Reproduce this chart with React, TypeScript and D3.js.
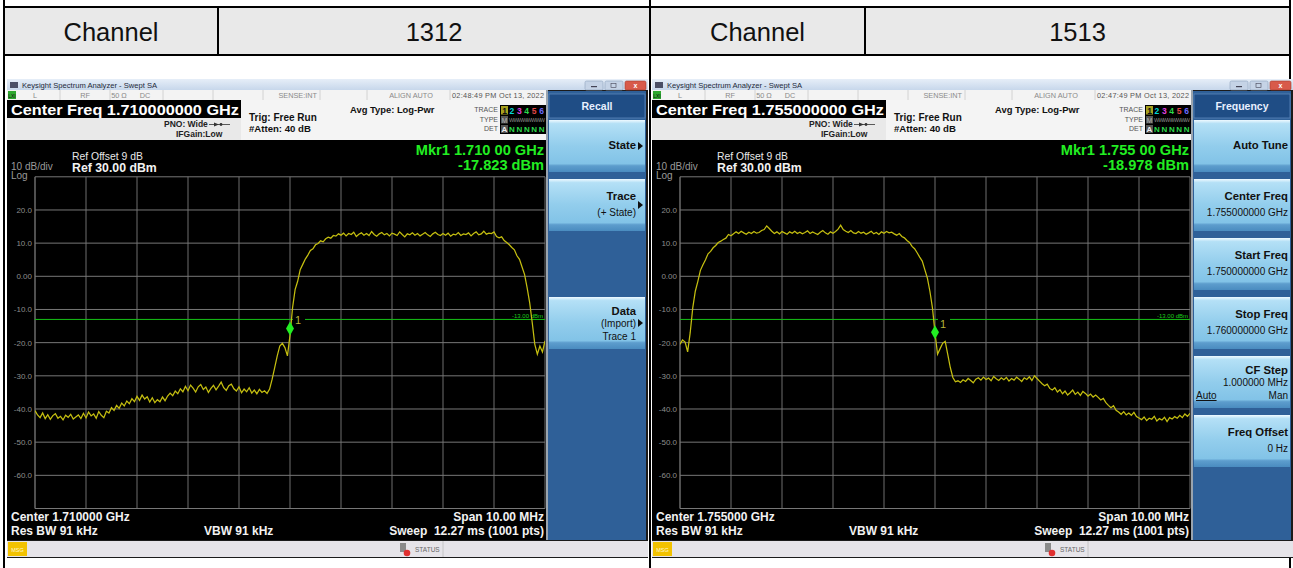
import React from "react";
import * as d3 from "d3";

// ---- data ----
const channels = ["1312", "1513"];
const centerFreqs = [1.71, 1.755]; // GHz
const markerLevels = [-17.823, -18.978]; // dBm
const markerTexts = ["1.710 00 GHz", "1.755 00 GHz"];
const timestamps = ["02:48:49 PM Oct 13, 2022", "02:47:49 PM Oct 13, 2022"];
const yTicks = [20, 10, 0, -10, -20, -30, -40, -50, -60];
const displayLine = -13;
const refLevel = 30;
const spanGHz = 0.01;

// 201 points across the 10 MHz span
const trace1312 = [
  -40.5, -41.8, -42.6, -41.2, -42.9, -41.7, -43.1, -42.0, -41.4, -42.8,
  -42.2, -43.3, -41.9, -42.5, -41.6, -43.0, -42.4, -41.8, -42.9, -41.3,
  -42.7, -40.9, -42.1, -41.5, -42.8, -40.8, -41.9, -42.6, -40.7,
  -41.2, -39.6, -40.4, -38.9, -39.8, -38.2, -39.1, -37.6, -38.4, -36.9, -37.8, -36.2, -37.4, -35.8,
  -37.0, -36.3, -37.9, -36.6, -38.1, -37.2, -37.8, -36.4, -37.5, -36.1, -35.2, -36.0, -34.6, -35.4,
  -33.9, -34.8, -33.2, -34.5, -32.8, -33.7, -34.9, -33.3, -32.6, -34.1,
  -33.4, -35.0, -33.8, -32.9, -34.2, -33.1, -31.9, -33.6, -34.4, -33.0,
  -32.5, -33.9, -34.6, -33.3, -35.1, -34.0, -34.8, -33.6, -35.2, -34.3,
  -35.4, -34.1, -35.0, -34.5, -35.3, -34.0,
  -31.0, -27.5, -24.0, -21.0, -20.2, -21.5, -24.0, -17.8, -9.5, -4.0,
  -1.5, 2.0, 3.6, 5.2, 6.4, 7.8, 8.3, 9.5, 9.9, 10.7, 10.4, 11.3, 11.8, 11.5, 12.3,
  12.1, 12.8, 12.4, 13.0, 12.2, 12.9, 12.6, 13.3, 12.0, 12.7,
  13.1, 12.4, 12.9, 12.3, 13.5, 12.6, 12.1, 12.8, 13.2, 12.5,
  12.9, 12.2, 13.0, 12.7, 12.3, 13.4, 12.6, 11.9, 12.8, 12.5,
  13.1, 12.4, 12.9, 12.2, 12.7, 13.2, 12.5, 12.0, 12.8, 13.3,
  12.6, 12.3, 12.9, 12.4, 13.0, 12.1, 12.7, 12.5, 13.2, 12.3,
  12.8, 12.6, 13.1, 12.2, 12.9, 13.4, 12.5, 12.8, 13.6, 12.7,
  13.0,
  12.9, 13.4, 12.0, 11.6, 11.9, 10.8, 10.2, 9.5, 8.7, 8.0, 6.2,
  5.1, 2.8, 0.5, -3.5, -8.0, -14.0, -20.5, -23.5, -21.0, -22.8, -19.5,
];

const trace1513 = [
  -20.5, -19.2, -19.8, -22.8, -17.0, -9.5, -4.5, -1.5, 1.8, 3.5,
  5.0, 6.8, 7.5, 8.6, 9.3, 10.2, 10.6, 11.1, 11.5, 12.6, 12.2,
  12.8, 13.4, 12.9, 13.6, 13.1, 12.7, 13.3, 12.9, 13.5, 13.0,
  13.2, 13.8, 14.1, 15.2, 14.4, 13.6, 12.9, 13.4, 12.8, 13.5,
  13.1, 12.7, 13.4, 13.0, 13.6, 12.9, 13.3, 12.8, 13.2, 13.7,
  12.9, 13.4, 13.0, 12.6, 13.3, 13.8, 13.1, 12.7, 13.4, 13.0,
  13.5, 14.2, 15.4, 14.1, 13.6, 13.2, 13.8, 13.1, 12.9, 13.5,
  13.0, 13.3, 12.7, 13.1, 13.6, 12.8, 13.2, 12.6, 13.4, 13.0,
  13.5, 13.1, 13.3, 12.8,
  12.4, 12.9, 12.0, 11.6, 10.8, 10.2, 9.0, 8.3, 7.1, 5.8, 4.6, 2.0,
  -0.5, -4.5, -9.5, -17.0, -23.5, -21.8, -20.2, -19.6, -23.5, -27.5, -30.5, -31.8,
  -31.5, -32.0, -31.2, -31.7, -30.8, -31.4, -32.1, -31.0, -30.6, -31.3,
  -30.4, -31.1, -30.7, -31.5, -30.2, -30.9, -31.4, -30.6, -31.2, -30.5,
  -31.6, -30.8, -31.3, -30.4, -31.0, -31.7, -30.6, -31.1, -30.3, -31.4,
  -30.0, -30.8,
  -31.6, -32.4, -33.0, -32.5, -33.8, -34.3, -33.6, -34.9, -34.2,
  -35.4, -34.6, -35.8, -35.1, -34.3, -35.6, -34.9, -35.9, -34.7, -35.3, -36.1, -35.5, -36.4, -35.8,
  -36.5, -37.3, -36.8, -38.1, -38.9, -39.6, -39.0, -40.4, -40.9, -41.6, -40.8, -41.8, -41.2, -41.9, -41.0, -42.3,
  -42.7, -43.2, -42.4, -43.5, -42.8, -43.1, -42.2, -43.6, -42.9, -43.3,
  -42.5, -43.8, -42.6, -43.0, -42.3, -42.8, -41.9, -42.6, -41.5, -42.2, -41.3,
];

const traces = [trace1312, trace1513];

const recallKeys = [
  { slot: 0, title: "State", sub: [], arrow: true },
  { slot: 1, title: "Trace", sub: ["(+ State)"], arrow: true },
  { slot: 3, title: "Data", sub: ["(Import)", "Trace 1"], arrow: true },
];
const frequencyKeys = [
  { slot: 0, title: "Auto Tune", sub: [], arrow: false },
  { slot: 1, title: "Center Freq", sub: ["1.755000000 GHz"], arrow: false },
  { slot: 2, title: "Start Freq", sub: ["1.750000000 GHz"], arrow: false },
  { slot: 3, title: "Stop Freq", sub: ["1.760000000 GHz"], arrow: false },
  { slot: 4, title: "CF Step", sub: ["1.000000 MHz", "Auto|Man"], arrow: false },
  { slot: 5, title: "Freq Offset", sub: ["0 Hz"], arrow: false },
];
const menus = [
  { title: "Recall", keys: recallKeys },
  { title: "Frequency", keys: frequencyKeys },
];

const FONT = "'Liberation Sans', Arial, sans-serif";

// grid box (left screenshot coords, right one is shifted)
const GL = 35, GR = 545, GT = 176.8, GB = 508.5;

function Softkeys({ menu, id }) {
  const px = 549, pw = 96;
  return (
    <g>
      <rect x={548} y={91} width={98} height={449} fill="#2f6098" />
      <rect x={px} y={94} width={pw} height={24} fill="#1f4d85" stroke="#5a86b8" strokeWidth={0.8} />
      <text x={px + pw / 2} y={110} textAnchor="middle" fill="#e8f0ff" fontSize={10.5} fontWeight="bold">{menu.title}</text>
      {menu.keys.map((k) => {
        const top = 120 + 59 * k.slot;
        const n = 1 + k.sub.length;
        const base = n === 1 ? [29] : n === 2 ? [21, 37] : [18, 30, 43];
        const right = k.arrow ? 636 : 643;
        return (
          <g key={k.slot}>
            <rect x={px} y={top} width={pw} height={52} fill={`url(#key-${id})`} />
            <text x={right} y={top + base[0]} textAnchor="end" fontSize={11.3} fontWeight="bold" fill="#111">{k.title}</text>
            {k.sub.map((s, i) => {
              if (s.includes("|")) {
                const [a, b] = s.split("|");
                return (
                  <g key={i}>
                    <text x={551} y={top + base[i + 1]} fontSize={10} fill="#111" textDecoration="underline">{a}</text>
                    <text x={right} y={top + base[i + 1]} textAnchor="end" fontSize={10} fill="#111">{b}</text>
                  </g>
                );
              }
              return (
                <text key={i} x={right} y={top + base[i + 1]} textAnchor="end" fontSize={10} fill="#111">{s}</text>
              );
            })}
            {k.arrow && (
              <path d={`M638,${top + 22} L643,${top + 26} L638,${top + 30} Z`} fill="#111" />
            )}
          </g>
        );
      })}
    </g>
  );
}

function Analyzer({ idx, dx }) {
  const center = centerFreqs[idx];
  const trace = traces[idx];
  const x = d3.scaleLinear().domain([center - spanGHz / 2, center + spanGHz / 2]).range([GL, GR]);
  const y = d3.scaleLinear().domain([refLevel - 100, refLevel]).range([GB, GT]);
  const f0 = center - spanGHz / 2;
  const pts = trace.map((v, i) => [f0 + (i * spanGHz) / (trace.length - 1), v]);
  const line = d3.line().x((d) => x(d[0])).y((d) => y(d[1]));
  const xGrid = d3.range(11).map((i) => f0 + (i * spanGHz) / 10);
  const yGrid = d3.range(11).map((i) => refLevel - i * 10);
  const mx = x(center), my = y(markerLevels[idx]);
  const dl = y(displayLine);
  const fmt = (v) => (v === 0 ? "0.00" : v.toFixed(1));
  const ghz = center.toFixed(6);
  const statusSeps = [60, 110, 163, 213, 263, 320, 367, 450];

  return (
    <g transform={`translate(${dx},0)`} fontFamily={FONT}>
      <defs>
        <linearGradient id={`title-${idx}`} x1="0" y1="0" x2="0" y2="1">
          <stop offset="0" stopColor="#e6eef8" />
          <stop offset="1" stopColor="#c7d7eb" />
        </linearGradient>
        <linearGradient id={`key-${idx}`} x1="0" y1="0" x2="0" y2="1">
          <stop offset="0" stopColor="#eef9ff" />
          <stop offset="0.07" stopColor="#b4e0f6" />
          <stop offset="0.5" stopColor="#92cdec" />
          <stop offset="0.84" stopColor="#82c3e7" />
          <stop offset="0.88" stopColor="#5d9dcd" />
          <stop offset="1" stopColor="#4a8cc0" />
        </linearGradient>
        <clipPath id={`grid-${idx}`}>
          <rect x={GL} y={GT} width={GR - GL} height={GB - GT} />
        </clipPath>
      </defs>

      {/* frame */}
      <rect x={7} y={79} width={641} height={479} fill="#1b1b1b" />

      {/* title bar */}
      <rect x={7} y={79} width={641} height={11} fill={`url(#title-${idx})`} />
      <rect x={10} y={82} width={8} height={6} fill="#4a4f66" />
      <text x={22} y={88} fontSize={7.6} fill="#1e2a3a">Keysight Spectrum Analyzer - Swept SA</text>
      <rect x={585} y={81} width={18} height={9} rx={1.5} fill="#c5d3e6" stroke="#8ea2bd" strokeWidth={0.6} />
      <rect x={591} y={86} width={6} height={1.2} fill="#445" />
      <rect x={605} y={81} width={18} height={9} rx={1.5} fill="#c5d3e6" stroke="#8ea2bd" strokeWidth={0.6} />
      <rect x={611} y={83.5} width={5} height={4} fill="none" stroke="#445" strokeWidth={0.6} />
      <rect x={625} y={81} width={21} height={9} rx={1.5} fill="#d85a4a" stroke="#a63a2e" strokeWidth={0.6} />
      <text x={635.5} y={88} textAnchor="middle" fontSize={7} fill="#fff" fontWeight="bold">x</text>

      {/* status row */}
      <rect x={7} y={90} width={540} height={10} fill="#f3f3f3" />
      <rect x={8} y={91} width={8} height={8} fill="#2fa82f" />
      <text x={12} y={97.5} textAnchor="middle" fontSize={5} fill="#111">LXI</text>
      {statusSeps.map((s) => (
        <line key={s} x1={s} x2={s} y1={90} y2={100} stroke="#c9c9c9" strokeWidth={0.8} />
      ))}
      <g fontSize={7.3} fill="#8a8a8a">
        <text x={35} y={98} textAnchor="middle">L</text>
        <text x={85} y={98} textAnchor="middle">RF</text>
        <text x={119} y={98} textAnchor="middle">50 Ω</text>
        <text x={145} y={98} textAnchor="middle">DC</text>
        <text x={317} y={98} textAnchor="end">SENSE:INT</text>
        <text x={411} y={98} textAnchor="middle">ALIGN AUTO</text>
        <text x={452} y={98} fill="#555" textLength={92}>{timestamps[idx]}</text>
      </g>

      {/* settings header */}
      <rect x={7} y={100} width={540} height={40} fill="#f4f4f4" />
      <rect x={7} y={118} width={234} height={22} fill="#e9e9e9" />
      <rect x={7} y={100} width={234} height={18} fill="#000" />
      <text x={11} y={115} fontSize={14.5} fontWeight="bold" fill="#fff" textLength={228}
        lengthAdjust="spacingAndGlyphs">Center Freq {center.toFixed(9)} GHz</text>
      <g fontSize={8.5} fill="#222" fontWeight="bold">
        <text x={164} y={127}>PNO: Wide</text>
        <text x={176} y={137}>IFGain:Low</text>
      </g>
      <line x1={209} x2={230} y1={124.5} y2={124.5} stroke="#333" strokeWidth={0.8} />
      <path d="M214,122.5 L219,124.5 L214,126.5 Z" fill="#333" />
      <circle cx={221} cy={124.5} r={1.4} fill="#333" />
      <g fontSize={10} fill="#111" fontWeight="bold">
        <text x={249} y={121}>Trig: Free Run</text>
        <text x={249} y={132} fontSize={9.6}>#Atten: 40 dB</text>
        <text x={350} y={113} fontSize={9.4}>Avg Type: Log-Pwr</text>
      </g>
      <g fontSize={7} fill="#555">
        <text x={498} y={112} textAnchor="end">TRACE</text>
        <text x={498} y={122} textAnchor="end">TYPE</text>
        <text x={498} y={131} textAnchor="end">DET</text>
      </g>
      <rect x={500} y={105} width={46} height={29} fill="#000" />
      <rect x={501} y={106} width={7} height={8.5} fill="#a6a01e" />
      {["1", "2", "3", "4", "5", "6"].map((c, i) => (
        <text key={c} x={504.5 + i * 7.4} y={113.5} textAnchor="middle" fontSize={8.5} fontWeight="bold"
          fill={["#111", "#00d8d8", "#e040e0", "#2bd84a", "#e04848", "#6a6aff"][i]}>{c}</text>
      ))}
      <rect x={501} y={116} width={7} height={7.5} fill="#555" />
      <text x={504.5} y={122.5} textAnchor="middle" fontSize={6.5} fill="#bbb">M</text>
      <text x={509} y={122} fontSize={5.5} fill="#8a8a8a" textLength={36}>WWWWWWWW</text>
      <rect x={501} y={125} width={7} height={8} fill="#555" />
      <text x={504.5} y={132} textAnchor="middle" fontSize={8} fontWeight="bold" fill="#eee">A</text>
      {d3.range(5).map((i) => (
        <text key={i} x={512 + i * 7.4} y={132} textAnchor="middle" fontSize={8} fontWeight="bold" fill="#2bd84a">N</text>
      ))}

      {/* graph area */}
      <rect x={7} y={140} width={540} height={400} fill="#000" />
      <text x={11} y={169.5} fontSize={10} fill="#9a9a9a">10 dB/div</text>
      <text x={11} y={179} fontSize={10} fill="#9a9a9a">Log</text>
      <text x={72} y={160} fontSize={10.4} fill="#e8e8e8">Ref Offset 9 dB</text>
      <text x={72} y={171.5} fontSize={12.3} fontWeight="bold" fill="#f2f2f2">Ref 30.00 dBm</text>
      <text x={544} y={155} textAnchor="end" fontSize={14.6} fontWeight="bold" fill="#22ee22">Mkr1 {markerTexts[idx]}</text>
      <text x={544} y={170} textAnchor="end" fontSize={14.6} fontWeight="bold" fill="#22ee22">{markerLevels[idx].toFixed(3)} dBm</text>

      {xGrid.map((f, i) => (
        <line key={`v${i}`} x1={x(f)} x2={x(f)} y1={GT} y2={GB} stroke={i === 0 ? "#a0a0a0" : "#6f6f6f"} strokeWidth={1} />
      ))}
      {yGrid.map((v) => (
        <line key={`h${v}`} x1={GL} x2={GR} y1={y(v)} y2={y(v)} stroke="#777" strokeWidth={1} />
      ))}
      {yTicks.map((v) => (
        <text key={`t${v}`} x={32} y={y(v) + 3} textAnchor="end" fontSize={8} fill="#8d8d8d">{fmt(v)}</text>
      ))}

      <line x1={GL} x2={GR} y1={dl} y2={dl} stroke="#16c016" strokeWidth={1} />
      <rect x={mx + 3} y={dl - 1.5} width={12} height={3} fill="#000" />
      <text x={543} y={dl - 1.5} textAnchor="end" fontSize={6} fill="#1ccc1c">-13.00 dBm</text>

      <path d={line(pts)} fill="none" stroke="#c4be10" strokeWidth={1.25} clipPath={`url(#grid-${idx})`} />

      <path d={`M${mx},${my} L${mx + 4},${my - 7} L${mx},${my - 14} L${mx - 4},${my - 7} Z`} fill="#22ee22" />
      <text x={mx + 5} y={my - 11} fontSize={11} fill="#b8b33a">1</text>

      <g fontSize={12} fontWeight="bold" fill="#f2f2f2">
        <text x={11} y={520.5}>Center {ghz} GHz</text>
        <text x={11} y={534.5}>Res BW 91 kHz</text>
        <text x={204} y={534.5}>VBW 91 kHz</text>
        <text x={544} y={520.5} textAnchor="end">Span 10.00 MHz</text>
        <text x={544} y={534.5} textAnchor="end" xmlSpace="preserve">Sweep  12.27 ms (1001 pts)</text>
      </g>

      {/* divider + softkeys */}
      <rect x={546} y={90} width={2} height={450} fill="#9aa4ae" />
      <Softkeys menu={menus[idx]} id={idx} />

      {/* message bar */}
      <rect x={7} y={541} width={641} height={16} fill="#e6e4e9" />
      <rect x={8} y={542} width={19} height={14} fill="#f2c200" />
      <text x={17.5} y={551.5} textAnchor="middle" fontSize={5.5} fill="#fff8d0">MSG</text>
      <rect x={400} y={543} width={6} height={9} fill="#8a8a8a" />
      <circle cx={407} cy={553} r={3.3} fill="#e03030" />
      <text x={415} y={552} fontSize={6.5} fill="#666">STATUS</text>
      <line x1={443} x2={443} y1={541} y2={557} stroke="#bdbdbd" strokeWidth={0.8} />
    </g>
  );
}

export default function App() {
  const cols = [4, 218, 650, 865, 1290];
  return (
    <svg width={1293} height={568} style={{ position: "absolute", left: 0, top: 0, background: "#fff" }}
      fontFamily={FONT}>
      <rect x={0} y={0} width={1293} height={568} fill="#fff" />
      <rect x={4} y={7} width={1286} height={48} fill="#e9e9e9" />
      <line x1={3} x2={1291} y1={7} y2={7} stroke="#000" strokeWidth={2} />
      <line x1={3} x2={1291} y1={55} y2={55} stroke="#000" strokeWidth={2} />
      {[cols[0], cols[2], cols[4]].map((c) => (
        <line key={c} x1={c} x2={c} y1={0} y2={568} stroke="#000" strokeWidth={2} />
      ))}
      {[cols[1], cols[3]].map((c) => (
        <line key={c} x1={c} x2={c} y1={7} y2={55} stroke="#000" strokeWidth={2} />
      ))}
      {channels.map((ch, i) => (
        <g key={ch} fontSize={25.5} fill="#111">
          <text x={(cols[i * 2] + cols[i * 2 + 1]) / 2} y={40.5} textAnchor="middle">Channel</text>
          <text x={(cols[i * 2 + 1] + cols[i * 2 + 2]) / 2} y={40.5} textAnchor="middle">{ch}</text>
        </g>
      ))}
      <Analyzer idx={0} dx={0} />
      <Analyzer idx={1} dx={645} />
    </svg>
  );
}
